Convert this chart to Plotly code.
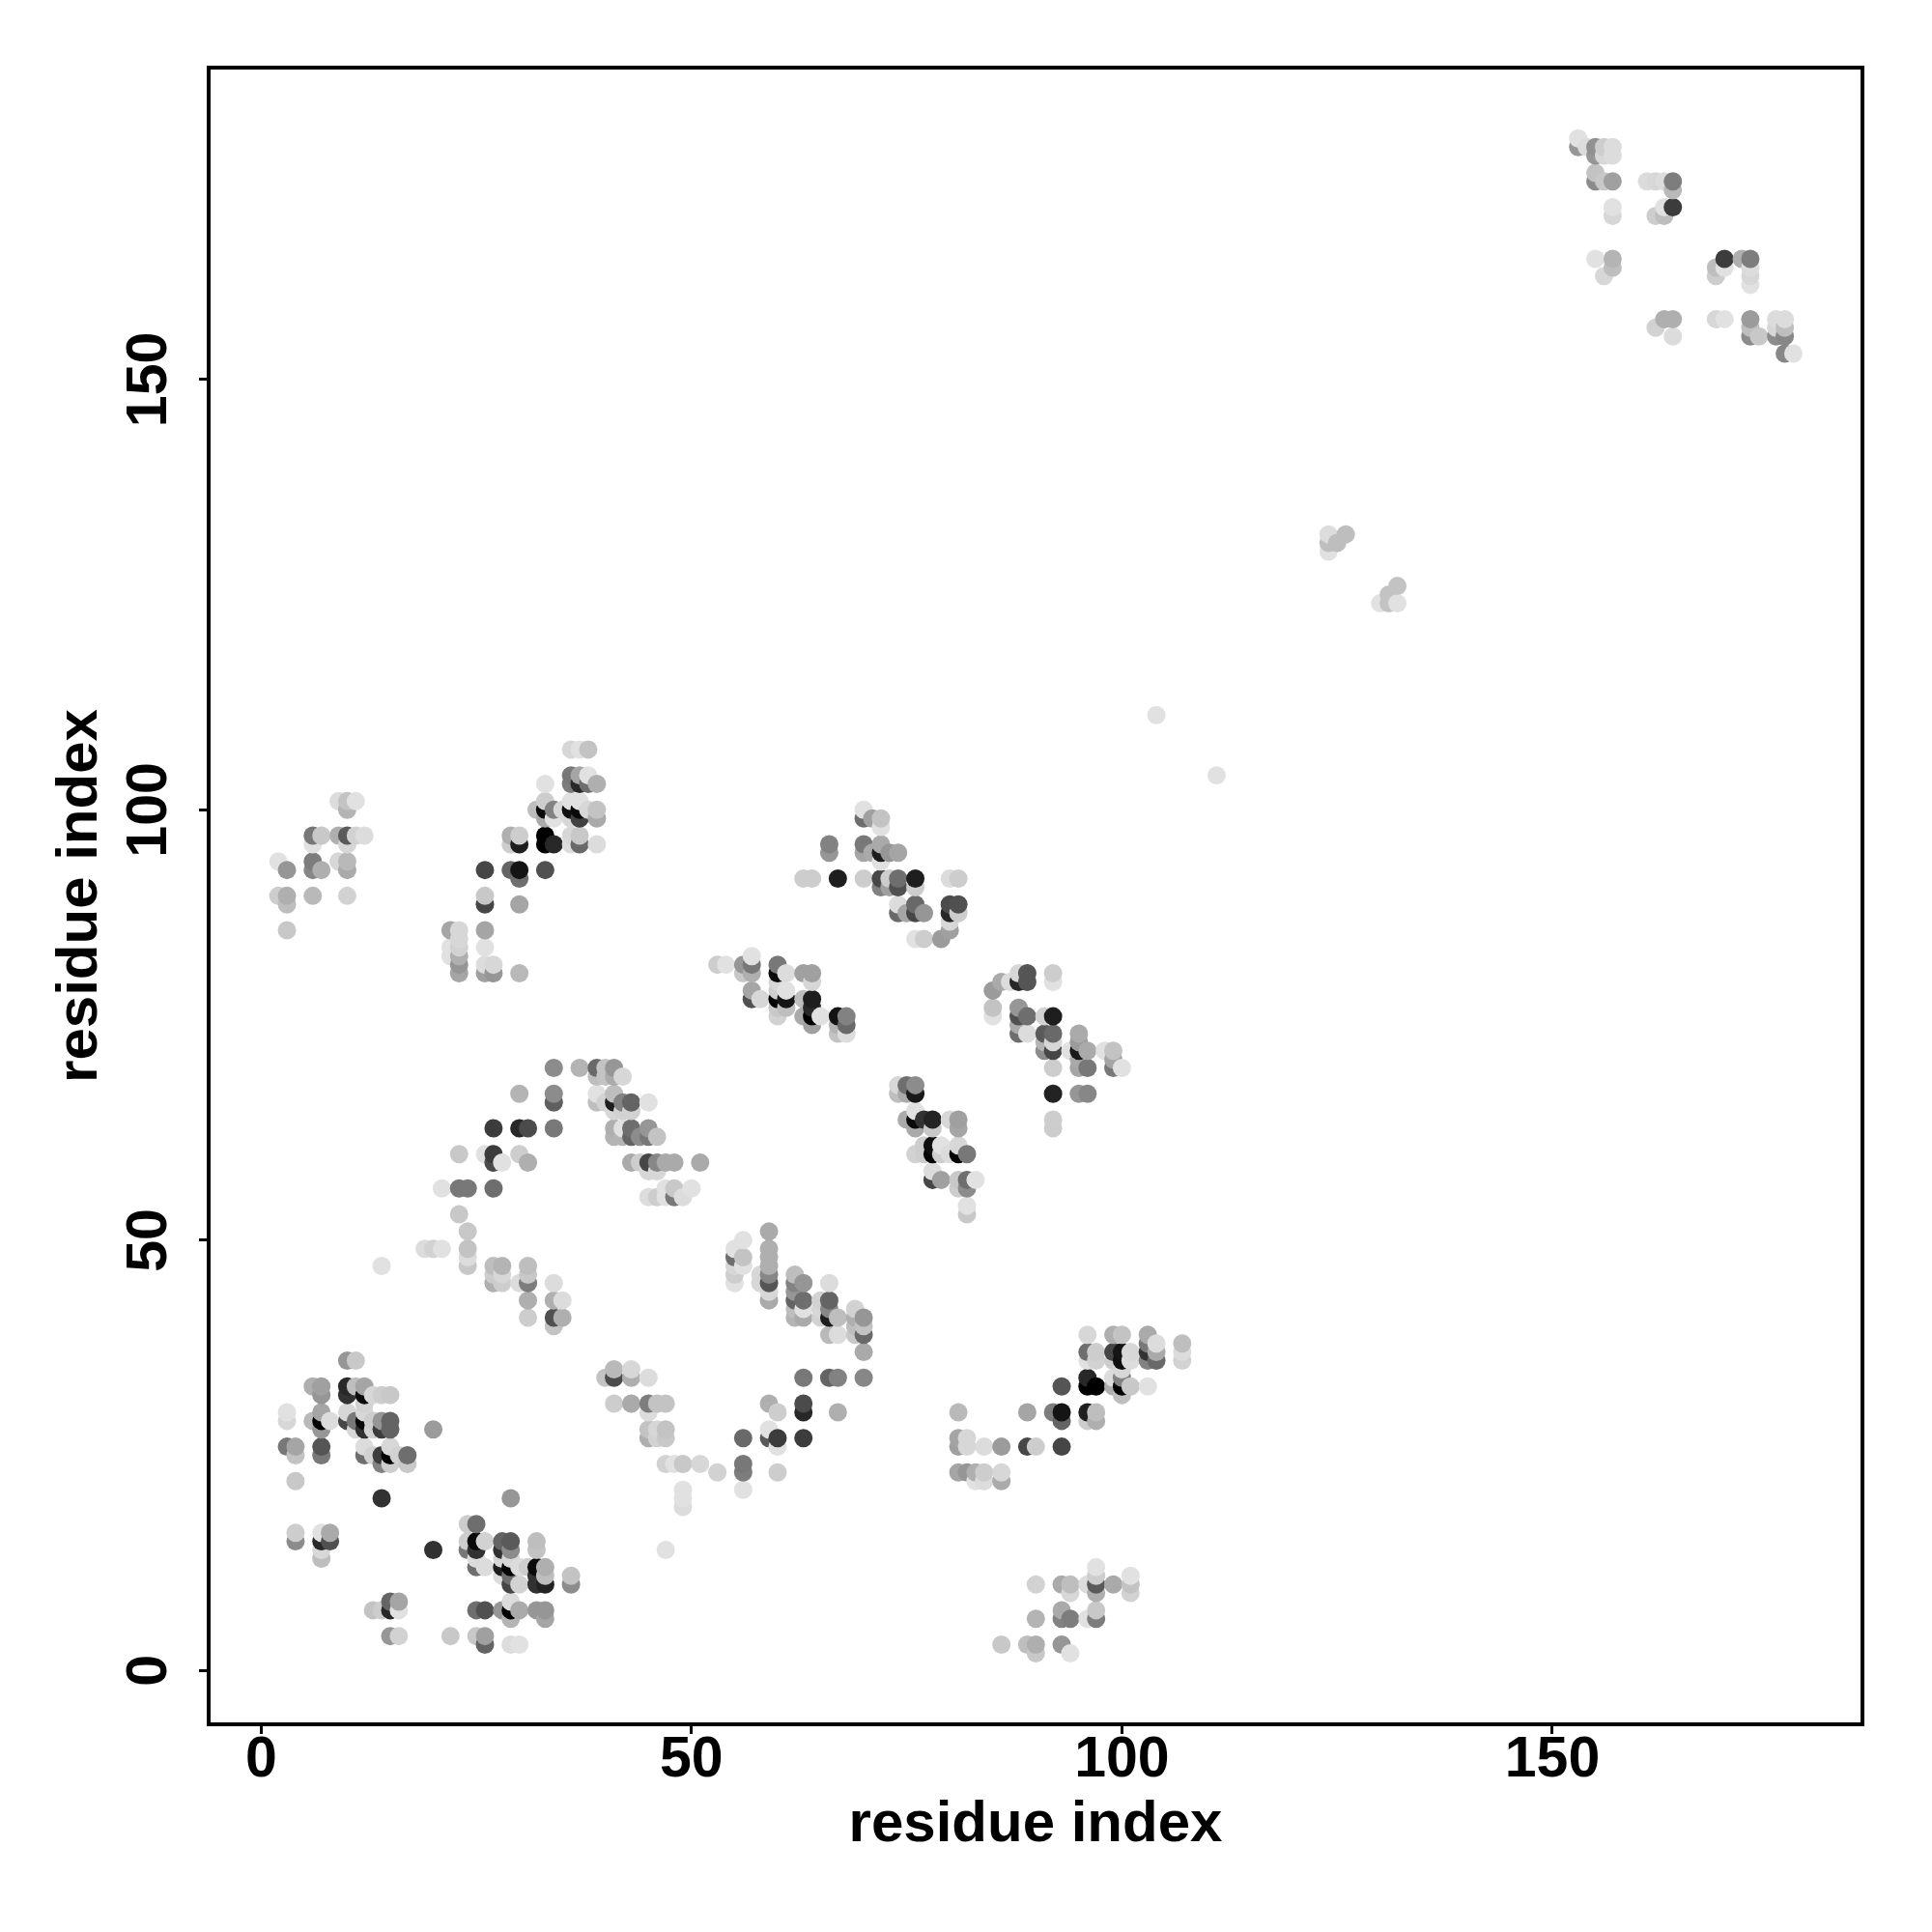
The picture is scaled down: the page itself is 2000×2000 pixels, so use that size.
import plotly.graph_objects as go
import pandas as pd

# contact groups: residue x, residue y, grey level
a_x = [10,11, 6,7,10,11,12, 7,10,12,13,14,15, 12, 3,7,10,12, 3,6,7,8,10,11,12,13,14,15, 7,11,12,13,14,15,20, 3,4,7,12,15, 4,7,12,13,14,15,16,17, 14,15,17, 4, 14]
a_y = [36,36, 33,33,33,33,33, 32,32,32,32,32,32, 31, 30,30,30,30, 29,29,29,29,29,29,29,29,29,29, 28,28,28,28,28,28,28, 26,26,26,26,26, 25,25,25,25,25,25,25,25, 24,24,24, 22, 20]
a_g = [150,200, 175,160,40,190,165, 150,50,10,215,205,200, 210, 225,165,215,215, 215,185,0,220,70,120,10,205,150,100, 150,215,50,210,60,100,155, 120,165,85,220,215, 195,120,110,210,60,0,210,110, 130,205,200, 200, 50]

b_x = [4,7,8, 4,7,8, 7, 7]
b_y = [16,16,16, 15,15,15, 14, 13]
b_g = [205,225,170, 140,40,80, 215,190]

c_x = [29, 24,25, 24,25,26,28,29,32, 20,24,25,28,29,32, 25,28,29, 25,26,28,29,30,31,32,33, 28,29,32,33,36, 29,30,32,33,36, 15,16,29, 13,14,15,16,25,26,28,29,30,32,33, 29,33, 15,16,22,25,26, 26,29,30]
c_y = [20, 17,17, 15,15,15,15,15,15, 14,14,14,14,14,14, 13,13,13, 12,12,12,12,12,12,12,12, 11,11,11,11,11, 10,10,10,10,10, 8,8,8, 7,7,7,7,7,7,7,7,7,7,7, 6,6, 4,4,4,4,4, 3,3,3]
c_g = [150, 205,110, 205,10,210,100,90,190, 50,120,50,50,140,195, 220,215,215, 110,220,30,0,220,205,10,175, 220,110,50,190,195, 70,210,50,35,140, 100,165,220, 195,205,40,225,110,80,150,0,170,150,150, 180,165, 150,210,200,200,160, 100,220,225]

d_x = [34,37,39,40,41, 39,40,41,42, 30,34,39,41, 34,39,40,41,42,43,45, 41,42,43, 27,30,31,34,41,42,43,45, 41,42,43,44,45,46, 23,26,27,30, 27,28,31,43,44,45,46,47,48,51, 45,46, 21,23,24,27,47,48,50, 45,46,47,48,49, 23, 24, 19,20,21,24, 24, 14,24,27,28,31, 27,28,31, 27,28,30,31,34, 31,34,35, 31,34,35, 34]
d_y = [70,70,70,70,70, 69,69,69,69, 67,67,67,67, 66,66,66,66,66,66,66, 65,65,65, 63,63,63,63,63,63,63,63, 62,62,62,62,62,62, 60,60,60,60, 59,59,59,59,59,59,59,59,59,59, 58,58, 56,56,56,56,56,56,56, 55,55,55,55,55, 53, 51, 49,49,49,49, 48, 47,47,47,47,47, 46,46,46, 45,45,45,45,45, 43,43,43, 41,41,41, 40]
d_g = [140,180,105,195,150, 190,195,170,215, 180,140,225,190, 95,190,210,30,130,100,225, 215,210,210, 60,40,75,120,175,225,110,150, 180,180,100,140,120,195, 200,225,60,205, 75,225,175,170,205,70,135,170,170,170, 215,215, 225,120,120,110,225,200,225, 220,205,225,120,220, 200, 200, 220,210,225,195, 220, 225,200,190,180,190, 205,215,200, 175,205,220,125,220, 175,175,220, 205,80,175, 195]

f_x = [55,55,55,55,55, 56,56,56, 58,58, 59,59,59,59,59,59,59,59, 62,62,62,62,62,62, 63,63,63,63, 65,65,65, 66,66,66,66,66, 67,67, 69,69,69,69, 70,70,70,70]
f_y = [49,48,47,46,45, 50,48,47, 46,45, 51,49,48,47,46,45,44,43, 46,45,44,43,42,41, 45,43,42,41, 43,42,41, 45,43,42,41,39, 41,39, 42,41,40,39, 41,40,39,37]
f_g = [225,110,215,205,225, 225,195,225, 215,215, 170,175,175,175,135,85,215,170, 190,130,150,100,190,180, 150,110,225,170, 210,215,210, 220,100,135,30,185, 190,220, 210,175,190,200, 150,195,105,170]

g_x = [41,43, 40,41,43,45,63,66,67,70, 41,43,45,46,47,59,63, 45,60,63,67, 45,46,47,59, 45,46,47,56,59,60,63, 60, 47,48,49,51,56, 53,56,60, 49,56, 49, 49, 47]
g_y = [35,35, 34,34,34,34,34,34,34,34, 31,31,31,31,31,31,31, 30,30,30,30, 28,28,28,28, 27,27,27,27,27,27,27, 26, 24,24,24,24,24, 23,23,23, 21,21, 20, 19, 14]
g_g = [185,215, 195,75,175,220,120,100,130,135, 205,170,125,195,195,175,75, 220,205,40,175, 195,215,195,225, 175,210,200,105,90,60,60, 225, 210,225,200,215,120, 210,125,205, 225,225, 225, 220, 225]

h_x = [9,10,11, 10, 6,7,9,10,11,12, 6,10, 2,6,9,10, 3,6,7,10, 2,3,6,10, 3, 3]
h_y = [101,101,101, 100, 97,97,97,97,97,97, 96,96, 94,94,94,94, 93,93,93,93, 90,90,90,90, 89, 86]
h_g = [220,195,225, 180, 120,200,175,90,210,220, 225,215, 225,125,215,185, 150,135,175,170, 205,175,185,210, 190, 200]

i_x = [36,37,38, 36,37,38, 33,36,37,38,39, 33,36,37, 32,33,34,35,36,37,38,39, 33,34,36,37,39, 29,30,33,36,37, 29,30,33,34,36,37,39, 26,29,30,33, 30, 26, 26,30, 22,23,26, 23, 22,23,26, 22,23, 23,26,27, 23,26,27,30]
i_y = [107,107,107, 104,104,104, 103,103,103,103,103, 101,101,101, 100,100,100,100,100,100,100,100, 99,99,99,99,99, 97,97,97,97,97, 96,96,96,96,96,96,96, 93,93,93,93, 92, 90, 89,89, 86,86,86, 85, 84,84,84, 83,83, 82,82,82, 81,81,81,81]
i_g = [215,225,195, 120,165,225, 225,125,40,110,175, 205,225,225, 190,10,130,215,15,10,215,195, 170,225,215,65,170, 175,205,0,215,200, 205,30,0,40,220,105,220, 70,100,20,80, 110, 200, 70,165, 165,215,165, 215, 225,210,225, 225,175, 150,220,215, 165,160,150,185]

j_x = [70, 70,71,72, 72, 66,70,72, 66,70,71,72,73,74, 72, 63,64,67,70,72,73,74,76,80,81, 72,73,74,76, 74,76,80,81, 74,75,76,77,80,81, 80, 80, 76,77,79]
j_y = [100, 99,99,99, 98, 96,96,96, 95,95,95,95,95,95, 94, 92,92,92,92,92,92,92,92,92,92, 91,91,91,91, 89,89,89,89, 88,88,88,88,88,88, 87, 86, 85,85,85]
j_g = [225, 110,160,195, 225, 130,120,170, 150,165,170,30,150,165, 225, 205,205,30,205,70,205,110,30,220,205, 130,160,80,205, 220,105,75,80, 105,165,70,150,40,205, 215, 160, 225,205,155]

k_x = [57, 53,54,56,57,60, 56,57,60,61,63,64, 60,64, 57,60,61, 57,58,60,61,63,64, 60,61,64, 60,63,64,65,67,68, 64,67,68, 67,68]
k_y = [83, 82,82,82,82,82, 81,81,81,81,81,81, 80,80, 79,79,79, 78,78,78,78,78,78, 77,77,77, 76,76,76,76,76,76, 75,75,75, 74,74]
k_g = [225, 205,225,150,120,120, 200,175,10,220,160,160, 215,215, 165,205,225, 80,215,0,20,190,30, 200,190,40, 210,170,0,225,20,130, 160,180,105, 195,220]

l_x = [85, 88,89,92, 86,87,88,89,92, 85, 85,88, 88,89,91,92, 88, 88,89,91,92,95, 91,92,95, 91,92,94,95,96,98,99, 95,99, 92,95,96,99,100, 92,95,96, 92, 92]
l_y = [76, 81,81,81, 80,80,80,80,80, 79, 77,77, 76,76,76,76, 75, 74,74,74,74,74, 73,73,73, 72,72,72,72,72,72,72, 71,71, 70,70,70,70,70, 67,67,67, 64, 63]
l_g = [225, 215,85,205, 170,220,40,85,225, 155, 195,150, 80,110,210,30, 170, 110,220,90,105,170, 180,215,155, 140,70,225,25,170,225,195, 170,165, 205,165,120,120,225, 35,150,135, 205, 205]

m_x = [74,75,76, 74,75,76, 76, 75,76,77,78,80,81, 76,78,81, 77,78,79,81, 76,77,78,79,80,81,82, 78, 78,79,81,82,83, 81,82, 82, 82]
m_y = [68,68,68, 67,67,67, 65, 64,64,64,64,64,64, 63,63,63, 61,61,61,61, 60,60,60,60,60,60,60, 58, 57,57,57,57,57, 56,56, 54, 53]
m_g = [215,110,140, 190,170,25, 225, 170,10,50,35,215,160, 170,200,165, 205,15,225,215, 210,205,5,205,220,0,120, 220, 70,160,200,110,225, 205,140, 225, 200]

n_x = [96,99,100,103, 103,104,107, 96,97,99,100,101,103,104,107, 96,97,99,100,101,103,104,107, 100, 96,99,100, 93,96,97,99,100,101,103, 100, 81,89,92,93,96,97, 93,96,97, 81,82, 81,82,84,86,89,90,93, 81,82,83,84,86, 83,84,86]
n_y = [39,39,39,39, 38,38,38, 37,37,37,37,37,37,37,37, 36,36,36,36,36,36,36,36, 35, 34,34,34, 33,33,33,33,33,33,33, 32, 30,30,30,30,30,30, 29,29,29, 27,27, 26,26,26,26,26,26,26, 23,23,23,23,23, 22,22,22]
n_g = [215,175,195,170, 120,220,190, 110,205,70,20,215,50,170,220, 225,210,205,15,220,130,105,210, 215, 40,220,130, 85,0,0,175,0,200,225, 190, 185,165,125,20,30,190, 100,205,175, 165,215, 160,215,220,155,70,205,70, 165,150,175,205,215, 225,220,170]

o_x = [97, 97,101, 90,93,94,96,97,99,101, 94,97,101, 93,97, 90,93,94,96,97, 86,89,90,93, 90,94]
o_y = [12, 11,11, 10,10,10,10,10,10,10, 9,9,9, 7,7, 6,6,6,6,6, 3,3,3,3, 2,2]
o_g = [225, 205,225, 210,170,190,220,90,170,195, 215,175,210, 170,200, 180,130,125,225,125, 200,190,175,150, 200,225]

p_x = [153, 153,154,155,156,157, 155,156,157, 155, 155,156,157,161,162,163,164, 164, 157,163,164, 157,162,163, 155,157,170,172,173, 157,169,170,173, 156,169,173, 173, 163,164,169,170,173,176,177, 162,173,176,177, 164,173,174,176,177, 177,178]
p_y = [178, 177,177,177,177,177, 176,176,176, 174, 173,173,173,173,173,173,173, 172, 170,170,170, 169,169,169, 164,164,164,164,164, 163,163,163,163, 162,162,162, 161, 157,157,157,157,157,157,157, 156,156,156,156, 155,155,155,155,155, 153,153]
p_g = [225, 150,220,145,205,220, 150,215,220, 195, 140,200,160,220,215,220,125, 185, 225,225,60, 215,205,190, 225,180,60,175,125, 190,190,225,220, 215,205,215, 225, 175,175,215,225,155,220,220, 210,190,215,190, 220,140,200,140,135, 135,225]

q_x = [124,124,124,125,126, 130,131,131,132,132, 104, 111]
q_y = [132,131,130,131,132, 124,125,124,126,124, 111, 104]
q_g = [220,190,225,190,190, 225,195,195,195,225, 225, 225]

x_ticks = [0, 50, 100, 150]
y_ticks = [0, 50, 100, 150]
axis_label = "residue index"

all_x = a_x+b_x+c_x+d_x+f_x+g_x+h_x+i_x+j_x+k_x+l_x+m_x+n_x+o_x+p_x+q_x
all_y = a_y+b_y+c_y+d_y+f_y+g_y+h_y+i_y+j_y+k_y+l_y+m_y+n_y+o_y+p_y+q_y
all_g = a_g+b_g+c_g+d_g+f_g+g_g+h_g+i_g+j_g+k_g+l_g+m_g+n_g+o_g+p_g+q_g

df = pd.DataFrame({"x": all_x, "y": all_y, "g": all_g})
df = df.drop_duplicates(["x", "y"], keep="first").sort_values(["x", "y"])

fig = go.Figure(go.Scatter(
    x=df["x"], y=df["y"], mode="markers",
    marker=dict(size=19, line=dict(width=0),
                color=[f"rgb({v},{v},{v})" for v in df["g"]]),
    hoverinfo="skip",
))

font = "Liberation Sans"
title_font = dict(family=font, size=60, color="black", weight="bold")
axis_style = dict(
    showgrid=False, zeroline=False, showline=True, mirror=True,
    linecolor="black", linewidth=3.5, ticks="outside", ticklen=8, tickwidth=3,
    tickcolor="black", tickmode="array",
    tickfont=dict(family=font, size=59, color="black", weight="bold"),
)
fig.update_xaxes(range=[-5.87, 185.8], tickvals=x_ticks, ticktext=[str(v) for v in x_ticks],
                 tickangle=0, ticklabelstandoff=-27, automargin=True, **axis_style,
                 title=dict(text=axis_label, standoff=12, font=title_font))
fig.update_yaxes(range=[-6.03, 186], tickvals=y_ticks, ticktext=[str(v) for v in y_ticks],
                 tickangle=-90, ticklabelstandoff=11, ticklabelshift=9, **axis_style,
                 title=dict(text=axis_label, standoff=0, font=title_font))
fig.update_layout(width=2000, height=2000, autosize=False,
                  margin=dict(l=210, r=82, t=64, b=225, autoexpand=False),
                  paper_bgcolor="white", plot_bgcolor="white", showlegend=False)
fig.write_html("out.html")
